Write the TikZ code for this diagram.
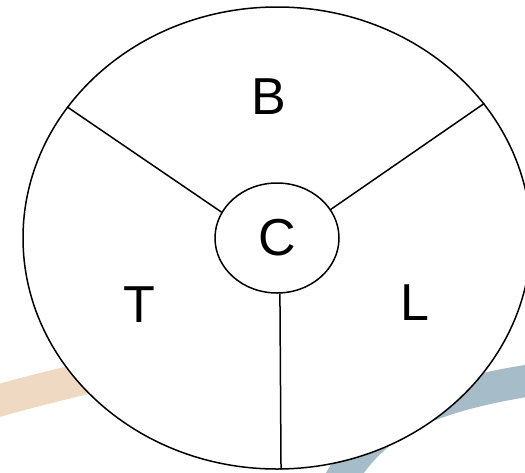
\documentclass[tikz,border=0pt]{standalone}
\usepackage{fontspec}
\setmainfont{Liberation Sans}
\usetikzlibrary{shapes.geometric}
\definecolor{tanband}{HTML}{EFD9C2}
\definecolor{blueband}{HTML}{A6BCC8}
\tikzset{
  region/.style={draw=black, line width=1.5pt, ellipse, fill=white, inner sep=0pt},
  divider/.style={draw=black, line width=1.5pt},
  lab/.style={font=\fontsize{52}{60}\selectfont, inner sep=0pt},
  band/.style={line width=32pt, line cap=butt}
}
\begin{document}
\begin{tikzpicture}[x=1pt, y=-1pt]
\useasboundingbox (0,0) rectangle (525,472);
\clip (0,0) rectangle (525,472);
\fill[white] (0,0) rectangle (525,472);
% background bands
\draw[band, draw=tanband] (-20,406) .. controls (40,388) and (90,378) .. (150,362);
\draw[band, draw=blueband] (335,490) .. controls (370,420) and (430,395) .. (545,378);
% main shapes
\node[region, minimum width=508pt, minimum height=462pt] (big) at (277,238) {};
\node[region, minimum width=124pt, minimum height=110pt] (c) at (277,238) {};
\draw[divider] (big.148) -- (c.155);
\draw[divider] (big.33.7) -- (c.28.6);
\draw[divider] (big.-89.3) -- (c.-87);
% labels
\node[lab] (lb) at (269,97) {B};
\node[lab] (lc) at (277,238) {C};
\node[lab] (lt) at (139,305) {T};
\node[lab] (ll) at (415,303) {L};
\end{tikzpicture}
\end{document}
